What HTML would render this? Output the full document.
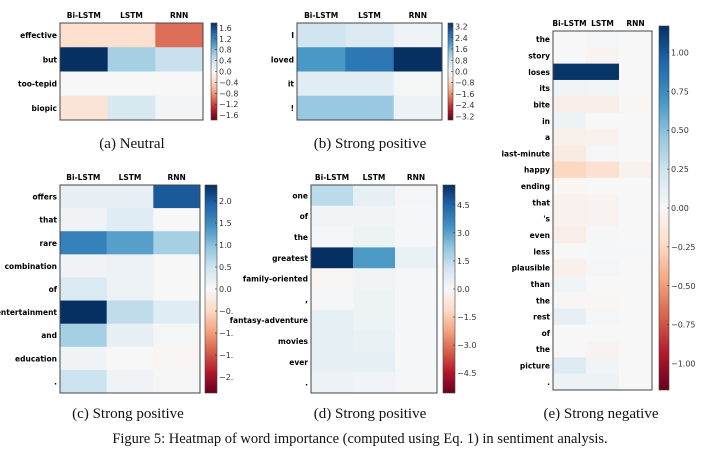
<!DOCTYPE html>
<html><head><meta charset="utf-8">
<style>
body{margin:0;background:#fff;width:720px;height:455px;overflow:hidden}
svg text{font-family:"DejaVu Sans","Liberation Sans",sans-serif}
.cap{font-family:"Liberation Serif",serif;font-size:15px;fill:#111}
</style></head><body>
<svg id="fig" width="720" height="455" xmlns="http://www.w3.org/2000/svg">
<text class="cap" x="132" y="148" text-anchor="middle">(a) Neutral</text>
<text class="cap" x="370" y="148" text-anchor="middle">(b) Strong positive</text>
<text class="cap" x="128" y="418" text-anchor="middle">(c) Strong positive</text>
<text class="cap" x="370" y="418" text-anchor="middle">(d) Strong positive</text>
<text class="cap" x="601" y="418" text-anchor="middle">(e) Strong negative</text>
<text class="cap" x="360" y="443" text-anchor="middle" style="font-size:14.5px">Figure 5: Heatmap of word importance (computed using Eq. 1) in sentiment analysis.</text>
</svg>
<script>
const models = ["Bi-LSTM","LSTM","RNN"];
const wordsA = ["effective","but","too-tepid","biopic"];
const valsA = [[-0.3,-0.3,-1.0],[1.78,0.6,0.4],[0,0,0],[-0.25,0.3,0.05]];
const ticksA = ["1.6","1.2","0.8","0.4","0.0","\u22120.4","\u22120.8","\u22121.2","\u22121.6"];
const tickValsA = [1.6,1.2,0.8,0.4,0,-0.4,-0.8,-1.2,-1.6];
const wordsB = ["I","loved","it","!"];
const valsB = [[0.7,0.5,0.15],[2.0,2.5,3.45],[0.4,0.4,0.05],[1.3,1.3,0.2]];
const ticksB = ["3.2","2.4","1.6","0.8","0.0","\u22120.8","\u22121.6","\u22122.4","\u22123.2"];
const tickValsB = [3.2,2.4,1.6,0.8,0,-0.8,-1.6,-2.4,-3.2];
const wordsC = ["offers","that","rare","combination","of","entertainment","and","education","."];
const valsC = [[0.2,0.2,2.0],[0.1,0.3,0],[1.6,1.3,0.8],[0.1,0.15,0],[0.35,0.15,0],[2.36,0.6,0.3],[0.8,0.2,0.05],[0.1,0,-0.05],[0.5,0.1,0.05]];
const ticksC = ["2.0","1.5","1.0","0.5","0.0","\u22120.","\u22121.","\u22121.","\u22122."];
const tickValsC = [2,1.5,1,0.5,0,-0.5,-1,-1.5,-2];
const wordsD = ["one","of","the","greatest","family-oriented",",","fantasy-adventure","movies","ever","."];
const valsD = [[1.5,0.5,0.1],[0.2,0.2,0.05],[0.1,0.3,0.05],[5.56,3.2,0.4],[-0.1,0.2,0.05],[0.1,0.3,0.05],[0.5,0.3,0.05],[0.5,0.4,0.05],[0.5,0.5,0.05],[0.3,0.2,0.05]];
const ticksD = ["4.5","3.0","1.5","0.0","\u22121.5","\u22123.0","\u22124.5"];
const tickValsD = [4.5,3,1.5,0,-1.5,-3,-4.5];
const wordsE = ["the","story","loses","its","bite","in","a","last-minute","happy","ending","that","'s","even","less","plausible","than","the","rest","of","the","picture","."];
const valsE = [[0,0.02,0],[0,-0.03,0],[1.15,1.15,0],[0.04,0.03,0],[-0.08,-0.08,-0.02],[0.06,0,0],[-0.06,-0.05,0],[-0.1,0.02,0],[-0.25,-0.18,-0.04],[-0.02,0,0],[-0.05,-0.03,0],[-0.05,-0.03,0],[-0.08,0.01,0],[0,0.01,0.01],[-0.06,0.02,0],[0.04,0,0],[-0.01,-0.02,0],[0.1,0.02,0],[0,0,0],[0,-0.03,0],[0.15,0.04,0],[0.06,0.06,0]];
const ticksE = ["1.00","0.75","0.50","0.25","0.00","\u22120.25","\u22120.50","\u22120.75","\u22121.00"];
const tickValsE = [1,0.75,0.5,0.25,0,-0.25,-0.5,-0.75,-1];

const NS="http://www.w3.org/2000/svg";
const svg=document.getElementById('fig');
const stops=["#67001f","#b2182b","#d6604d","#f4a582","#fddbc7","#f7f7f7","#d1e5f0","#92c5de","#4393c3","#2166ac","#053061"];
function hex(h){return [1,3,5].map(i=>parseInt(h.substr(i,2),16));}
function cmap(t){t=Math.max(0,Math.min(1,t));const p=t*10,i=Math.min(9,Math.floor(p)),f=p-i;const a=hex(stops[i]),b=hex(stops[i+1]);return "rgb("+a.map((v,k)=>Math.round(v+(b[k]-v)*f)).join(",")+")";}
function mk(tag,attrs,parent){const e=document.createElementNS(NS,tag);for(const k in attrs)e.setAttribute(k,attrs[k]);(parent||svg).appendChild(e);return e;}
function panel(id,words,vals,tickLabels,tickVals,vmax,box,cb){
  const g=mk('g',{});
  
  
  const [x0,y0,x1,y1]=box;const cw=(x1-x0)/3,rh=(y1-y0)/words.length;
  const colX=c=>x0+c*cw, rowY=r=>y0+r*rh;
  vals.forEach((row,r)=>row.forEach((v,c)=>{
    const rc=mk('rect',{x:colX(c),y:rowY(r),width:cw+0.5,height:rh+0.5,fill:cmap((v+vmax)/(2*vmax))},g);
    
    
  }));
  mk('rect',{x:x0,y:y0,width:x1-x0,height:y1-y0,fill:'none',stroke:'#444','stroke-width':1},g);
  models.forEach((m,c)=>{const t=mk('text',{x:colX(c)+cw/2,y:y0-5,'text-anchor':'middle','font-size':7.5,'font-weight':'bold'},g);t.textContent=m;
    
    });
  words.forEach((w,r)=>{const t=mk('text',{x:x0-3,y:rowY(r)+rh/2+3,'text-anchor':'end','font-size':7.5,'font-weight':'bold'},g);t.textContent=w;
    
    });
  const [cx0,cy0,cx1,cy1]=cb;const gid='grad'+id;
  const lg=mk('linearGradient',{id:gid,x1:0,y1:1,x2:0,y2:0},g);
  for(let i=0;i<=10;i++)mk('stop',{offset:i/10,'stop-color':stops[i]},lg);
  const bar=mk('rect',{x:cx0,y:cy0,width:cx1-cx0,height:cy1-cy0,fill:'url(#'+gid+')',stroke:'#444','stroke-width':0.6},g);
  
  
  const cyv=v=>cy0+(vmax-v)/(2*vmax)*(cy1-cy0);
  tickVals.forEach((v,i)=>{const y=cyv(v);mk('line',{x1:cx1-2,x2:cx1,y1:y,y2:y,stroke:'#333','stroke-width':0.6},g);
    const t=mk('text',{x:cx1+2,y:y+3,'font-size':8,fill:'#333'},g);t.textContent=tickLabels[i];
    
    });
}
panel('a',wordsA,valsA,ticksA,tickValsA,1.78,[60,23,203,120],[211,23,217,120]);
panel('b',wordsB,valsB,ticksB,tickValsB,3.45,[297,23,442,120],[448,23,453,120]);
panel('c',wordsC,valsC,ticksC,tickValsC,2.36,[60,185,200,393],[205,185,217,393]);
panel('d',wordsD,valsD,ticksD,tickValsD,5.56,[311,185,437,393],[443,185,455,393]);
panel('e',wordsE,valsE,ticksE,tickValsE,1.17,[553,31,652,390],[659,26,669,390]);
</script>
</body></html>
